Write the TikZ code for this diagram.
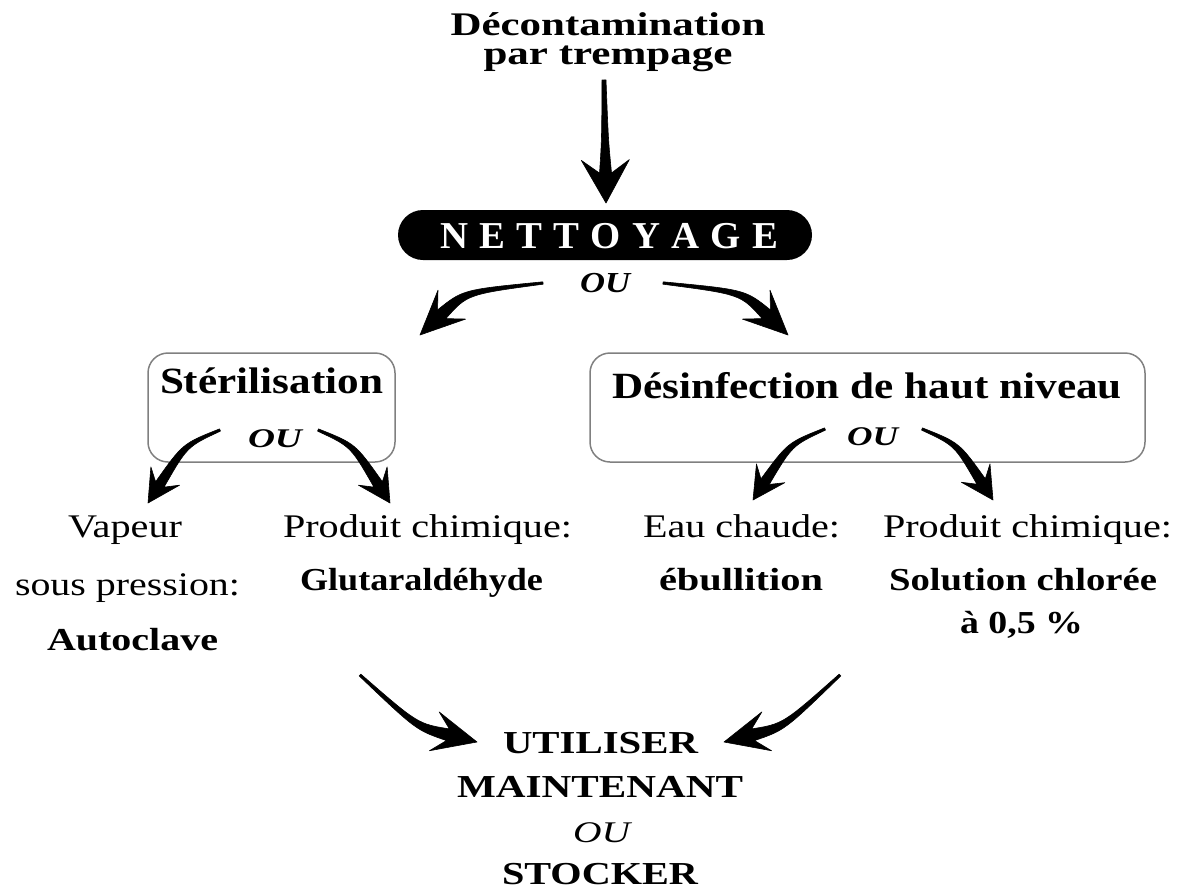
\documentclass[tikz,border=0pt]{standalone}
\usepackage{fontspec}
\setmainfont{Liberation Serif}
\usepackage{graphicx}
\usetikzlibrary{calc}
\newlength\fitlen
\newcommand\fitw[2]{\settowidth\fitlen{#2}\pgfmathsetmacro\fitr{#1/\fitlen}\scalebox{\fitr}[1]{#2}}
\newcommand\fsz[1]{\fontsize{#1}{#1}\selectfont}
% tapered arrow: #1 start, #2 control, #3 tip, #4 head length, #5 notch,
% #6 wing half width, #7 body half width at head, #8 body half width at start
\newcommand\taparrow[8]{%
  \path ($(#3)!#4!(#2)$) coordinate (hb)
        ($(#3)!#5!(#2)$) coordinate (hn);
  \path ($(hb)!#6!90:(#3)$) coordinate (w1)
        ($(hb)!#6!-90:(#3)$) coordinate (w2)
        ($(hn)!#7!90:(#3)$) coordinate (n1)
        ($(hn)!#7!-90:(#3)$) coordinate (n2)
        ($(#2)!0.55*#7!90:(#3)$) coordinate (c1)
        ($(#2)!0.55*#7!-90:(#3)$) coordinate (c2)
        ($(#1)!#8!90:(#2)$) coordinate (s1)
        ($(#1)!#8!-90:(#2)$) coordinate (s2);
  \filldraw[arr] (s1) .. controls (c1) .. (n1) -- (w1) -- (#3) -- (w2) -- (n2) .. controls (c2) .. (s2) -- cycle;
}
\tikzset{
  lbl/.style={anchor=base, inner sep=0pt, outer sep=0pt},
  boxframe/.style={draw=black!50, line width=1.5pt, rounded corners=20pt, inner sep=0pt},
  bar/.style={fill=black, rounded corners=25pt, inner sep=0pt},
  arr/.style={fill=black, draw=black, line width=0.6pt, line join=round},
  bigbold/.style={font=\fontsize{33}{29}\selectfont\bfseries},
  boxtitle/.style={font=\fsz{37}\bfseries},
  ouit/.style={font=\fsz{29}\bfseries\itshape},
  plain/.style={font=\fsz{33}},
  boldlow/.style={font=\fsz{32}\bfseries},
  bottomtxt/.style={font=\fsz{32}\bfseries}
}
\begin{document}
\begin{tikzpicture}[x=1pt,y=-1pt]
\useasboundingbox (0,0) rectangle (1178,892);

% top heading (anchor base = last line)
\node[lbl, bigbold, align=center] (deco) at (608,64)
  {\fitw{315}{Décontamination}\\\fitw{249}{par trempage}};

% NETTOYAGE bar
\node[bar, minimum width=414pt, minimum height=50pt] (nett) at (605,235) {};
\node[lbl, font=\fsz{38}\bfseries, text=white] (nettxt) at (609,248)
  {\fitw{338}{N\kern11pt E\kern11pt T\kern11pt T\kern11pt O\kern11pt Y\kern11pt A\kern11pt G\kern11pt E}};
\node[lbl, ouit] (ou1) at (605,292) {\fitw{50}{OU}};

% boxes
\node[boxframe, minimum width=247pt, minimum height=109pt] (sterbox) at (271.5,407.5) {};
\node[boxframe, minimum width=555pt, minimum height=109pt] (desbox) at (867.5,407.5) {};
\node[lbl, boxtitle] (ster) at (271.5,393) {\fitw{223}{Stérilisation}};
\node[lbl, boxtitle] (des) at (867,398) {\fitw{510}{Désinfection de haut niveau}};
\node[lbl, font=\fsz{27}\bfseries\itshape] (ou2) at (275,447) {\fitw{54}{OU}};
\node[lbl, font=\fsz{27}\bfseries\itshape] (ou3) at (872.5,445) {\fitw{51}{OU}};

% lower texts
\node[lbl, plain] (vap) at (125,537) {\fitw{114}{Vapeur}};
\node[lbl, plain] (sous) at (127.5,595) {\fitw{225}{sous pression:}};
\node[lbl, boldlow] (auto) at (132.5,650) {\fitw{171}{Autoclave}};
\node[lbl, plain] (prod1) at (427.5,537) {\fitw{289}{Produit chimique:}};
\node[lbl, boldlow] (glut) at (421.5,590) {\fitw{243}{Glutaraldéhyde}};
\node[lbl, plain] (eau) at (741.5,537) {\fitw{197}{Eau chaude:}};
\node[lbl, boldlow] (ebu) at (741,590) {\fitw{164}{ébullition}};
\node[lbl, plain] (prod2) at (1027.5,537) {\fitw{289}{Produit chimique:}};
\node[lbl, boldlow] (sol) at (1023,590) {\fitw{268}{Solution chlorée}};
\node[lbl, boldlow] (pct) at (1021.5,633) {\fitw{123}{à 0,5 \%}};

% bottom
\node[lbl, bottomtxt] (util) at (600.5,753) {\fitw{195}{UTILISER}};
\node[lbl, bottomtxt] (maint) at (600,797) {\fitw{286}{MAINTENANT}};
\node[lbl, font=\fsz{30}\itshape] (ou4) at (601.5,842) {\fitw{57}{OU}};
\node[lbl, bottomtxt] (stock) at (600,884) {\fitw{196}{STOCKER}};

% arrow coordinates
\coordinate (dS) at (604,80);   \coordinate (dC) at (605,140);  \coordinate (dE) at (606,203);
\coordinate (nlS) at (543,283); \coordinate (nlC) at (465,292); \coordinate (nlE) at (420,335);
\coordinate (nrS) at (663,283); \coordinate (nrC) at (743,292); \coordinate (nrE) at (788,335);
\coordinate (slS) at (220,430); \coordinate (slC) at (185,445); \coordinate (slE) at (148,503);
\coordinate (srS) at (318,430); \coordinate (srC) at (353,445); \coordinate (srE) at (390,503);
\coordinate (dlS) at (825,429); \coordinate (dlC) at (790,444); \coordinate (dlE) at (753,500);
\coordinate (drS) at (922,429); \coordinate (drC) at (957,444); \coordinate (drE) at (993,500);
\coordinate (blS) at (360,675); \coordinate (blC) at (417,727); \coordinate (blE) at (477,742);
\coordinate (brS) at (840,675); \coordinate (brC) at (784,727); \coordinate (brE) at (724,742);

% arrows
\taparrow{dS}{dC}{dE}{43pt}{30pt}{24pt}{6pt}{2pt}
\taparrow{nlS}{nlC}{nlE}{44pt}{30pt}{20pt}{6pt}{1.2pt}
\taparrow{nrS}{nrC}{nrE}{44pt}{30pt}{20pt}{6pt}{1.2pt}
\taparrow{slS}{slC}{slE}{32pt}{22pt}{17pt}{5pt}{1.2pt}
\taparrow{srS}{srC}{srE}{32pt}{22pt}{17pt}{5pt}{1.2pt}
\taparrow{dlS}{dlC}{dlE}{32pt}{22pt}{17pt}{5pt}{1.2pt}
\taparrow{drS}{drC}{drE}{32pt}{22pt}{17pt}{5pt}{1.2pt}
\taparrow{blS}{blC}{blE}{44pt}{30pt}{20pt}{6pt}{1.2pt}
\taparrow{brS}{brC}{brE}{44pt}{30pt}{20pt}{6pt}{1.2pt}
\end{tikzpicture}
\end{document}
